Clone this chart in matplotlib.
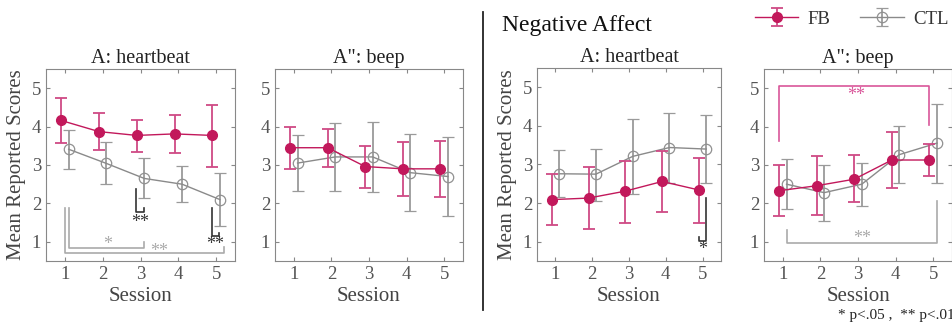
import numpy as np
import matplotlib.pyplot as plt

plt.rcParams['font.family'] = ['Liberation Serif', 'DejaVu Serif']

sessions = np.array([1, 2, 3, 4, 5])
titles = ['A: heartbeat', 'A": beep', 'A: heartbeat', 'A": beep']

# mean, lower bar end, upper bar end
fb_mean = [[4.16, 3.87, 3.77, 3.81, 3.77],
           [3.45, 3.45, 2.96, 2.90, 2.90],
           [2.09, 2.13, 2.31, 2.56, 2.34],
           [2.33, 2.46, 2.63, 3.13, 3.13]]
fb_lo = [[3.58, 3.39, 3.33, 3.32, 2.96],
         [2.90, 2.96, 2.41, 2.20, 2.17],
         [1.43, 1.33, 1.49, 1.77, 1.49],
         [1.66, 1.70, 2.03, 2.39, 2.71]]
fb_hi = [[4.74, 4.35, 4.17, 4.29, 4.55],
         [4.00, 3.95, 3.50, 3.61, 3.63],
         [2.76, 2.94, 3.10, 3.36, 3.17],
         [3.01, 3.24, 3.25, 3.86, 3.54]]

ctl_mean = [[3.41, 3.04, 2.65, 2.50, 2.10],
            [3.05, 3.21, 3.21, 2.80, 2.70],
            [2.76, 2.75, 3.21, 3.44, 3.40],
            [2.50, 2.28, 2.50, 3.27, 3.57]]
ctl_lo = [[2.90, 2.50, 2.13, 2.03, 1.42],
          [2.33, 2.32, 2.29, 1.80, 1.68],
          [2.17, 2.05, 2.24, 2.52, 2.52],
          [1.85, 1.54, 1.94, 2.52, 2.54]]
ctl_hi = [[3.91, 3.61, 3.19, 2.97, 2.80],
          [3.77, 4.10, 4.12, 3.81, 3.73],
          [3.37, 3.41, 4.19, 4.34, 4.27],
          [3.15, 3.00, 3.06, 4.01, 4.58]]

# significance brackets: (panel, x-path, y-path, label, label x, label y, color)
brackets = [
    (0, [2.88, 2.88, 3.08, 3.08], [2.37, 1.78, 1.78, 1.87], '**', 2.98, 1.5, '#333333'),
    (0, [4.88, 4.88, 5.08, 5.08], [1.87, 1.15, 1.15, 1.24], '**', 4.98, 0.93, '#333333'),
    (0, [1.1, 1.1, 3.1, 3.1], [1.87, 0.85, 0.85, 1.0], '*', 2.12, 0.94, '#aaaaaa'),
    (0, [1.0, 1.0, 5.2, 5.2], [1.87, 0.70, 0.70, 0.87], '**', 3.5, 0.76, '#aaaaaa'),
    (2, [4.9, 4.9, 5.1, 5.1], [1.12, 1.03, 1.03, 2.14], '*', 5.0, 0.8, '#333333'),
    (3, [0.9, 0.9, 4.9, 4.9], [3.62, 5.05, 5.05, 4.05], '**', 2.95, 4.82, '#d9569a'),
    (3, [1.1, 1.1, 5.1, 5.1], [1.31, 0.97, 0.97, 2.05], '**', 3.1, 1.08, '#aaaaaa'),
]

fb_col = '#c2185b'
ctl_col = '#8a8a8a'

fig = plt.figure(figsize=(9.52, 3.25), dpi=100)
W, H = 952, 325
boxes = [(46, 69, 235, 261), (275, 69, 463, 261),
         (537, 68, 721, 261), (764, 69, 952, 261)]
axes = []
for (l, t, r, b) in boxes:
    axes.append(fig.add_axes([l / W, 1 - b / H, (r - l) / W, (b - t) / H]))

for i, ax in enumerate(axes):
    m = np.array(fb_mean[i])
    yerr = [m - np.array(fb_lo[i]), np.array(fb_hi[i]) - m]
    h_fb = ax.errorbar(sessions - 0.1, m, yerr=yerr, color=fb_col, lw=1,
                       elinewidth=1.3, capsize=4, capthick=1.3, marker='o',
                       ms=7, mfc=fb_col, mec=fb_col, ecolor='#cf4a85', zorder=3)
    m = np.array(ctl_mean[i])
    yerr = [m - np.array(ctl_lo[i]), np.array(ctl_hi[i]) - m]
    h_ctl = ax.errorbar(sessions + 0.1, m, yerr=yerr, color=ctl_col, lw=1,
                        elinewidth=1.3, capsize=4, capthick=1.3, marker='o',
                        ms=7.5, mfc='none', mec='#909090', mew=0.9,
                        ecolor='#9a9a9a', zorder=2)
    ax.set_xlim(0.5, 5.5)
    ax.set_ylim(0.5, 5.5)
    ax.set_xticks(sessions)
    ax.set_yticks([1, 2, 3, 4, 5])
    ax.tick_params(direction='in', length=3, top=True, right=True,
                   labelsize=13.5, colors='#888888', labelcolor='#555555')
    for s in ax.spines.values():
        s.set_color('#888888')
    ax.set_title(titles[i], fontsize=14.5, color='#222222', pad=4)
    ax.set_xlabel('Session', fontsize=15, color='#444444', labelpad=3)
    if i in (0, 2):
        ax.set_ylabel('Mean Reported Scores', fontsize=15, color='#444444', labelpad=4)

for (p, xs, ys, lab, tx, ty, c) in brackets:
    ax = axes[p]
    ax.plot(xs, ys, color=c, lw=1.2, zorder=1)
    ax.text(tx, ty, lab, color=c, fontsize=13, ha='center', va='center')

fig.text(502 / W, 1 - 25 / H, 'Negative Affect', fontsize=17, color='#111111',
         va='center', ha='left')
fig.add_artist(plt.Line2D([483 / W, 483 / W], [1 - 12 / H, 1 - 310 / H],
                          color='#222222', lw=1.3))

fig.legend([h_fb, h_ctl], ['FB', 'CTL'], loc='center left',
           bbox_to_anchor=(755 / W, 1 - 19 / H), ncol=2, frameon=False,
           fontsize=13.5, handlelength=2.3, handletextpad=0.5,
           columnspacing=1.6, borderpad=0, borderaxespad=0, labelcolor='#333333')

fig.text(838 / W, 1 - 316 / H, '* p<.05 ,  ** p<.01', fontsize=11,
         color='#222222', va='center', ha='left')

fig.savefig('out.png', dpi=100)
